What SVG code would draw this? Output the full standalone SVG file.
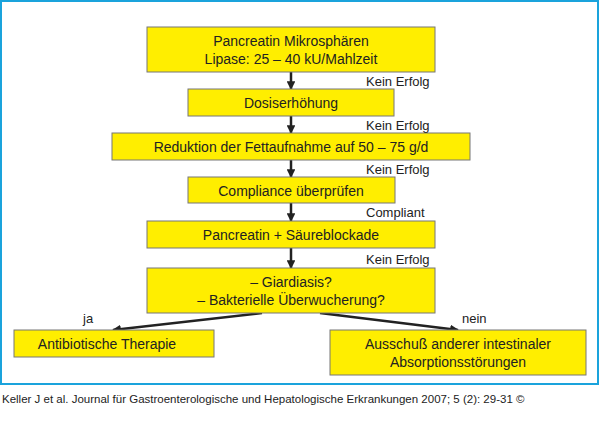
<svg xmlns="http://www.w3.org/2000/svg" width="600" height="447" viewBox="0 0 600 447">
<style>
.b{fill:#ffee00;stroke:#777;stroke-width:1}
.t{font-family:"Liberation Sans",Arial,sans-serif;font-size:14px;fill:#222;text-anchor:middle}
.l{font-family:"Liberation Sans",Arial,sans-serif;font-size:13px;fill:#222}
.c{stroke:#222;stroke-width:2.5;fill:none;marker-end:url(#a)}
</style>
<defs><marker id="a" viewBox="0 0 10 10" refX="9" refY="5" markerWidth="3.5" markerHeight="3.5" orient="auto"><path d="M0,0L10,5L0,10z" fill="#222"/></marker></defs>
<rect width="600" height="447" fill="#fff"/>
<rect x="1" y="1" width="597" height="383" fill="#fff" stroke="#1aa3dc" stroke-width="2"/>
<g id="connectors">
<path class="c" d="M291,72V89"/><path class="c" d="M291,116V133"/><path class="c" d="M291,160V177"/><path class="c" d="M291,203V221"/><path class="c" d="M291,248V268"/>
<path class="c" d="M262,313L113,330"/><path class="c" d="M320,313L458,330"/>
</g>
<g id="n1"><rect class="b" x="147" y="27" width="288" height="45"/><text class="t" x="291" y="46">Pancreatin Mikrosphären</text><text class="t" x="291" y="64">Lipase: 25 – 40 kU/Mahlzeit</text></g>
<g id="n2"><rect class="b" x="188" y="89" width="206" height="27"/><text class="t" x="291" y="108">Dosiserhöhung</text></g>
<g id="n3"><rect class="b" x="112" y="133" width="358" height="27"/><text class="t" x="291" y="152">Reduktion der Fettaufnahme auf 50 – 75 g/d</text></g>
<g id="n4"><rect class="b" x="188" y="177" width="207" height="26"/><text class="t" x="291" y="196">Compliance überprüfen</text></g>
<g id="n5"><rect class="b" x="147" y="221" width="288" height="27"/><text class="t" x="291" y="240">Pancreatin + Säureblockade</text></g>
<g id="n6"><rect class="b" x="147" y="268" width="288" height="45"/><text class="t" x="291" y="287">– Giardiasis?</text><text class="t" x="291" y="305">– Bakterielle Überwucherung?</text></g>
<g id="n7"><rect class="b" x="14" y="330" width="200" height="27"/><text class="t" x="107" y="349">Antibiotische Therapie</text></g>
<g id="n8"><rect class="b" x="330" y="330" width="256" height="45"/><text class="t" x="458" y="349">Ausschuß anderer intestinaler</text><text class="t" x="458" y="367">Absorptionsstörungen</text></g>
<g id="labels">
<text class="l" x="366" y="86">Kein Erfolg</text><text class="l" x="366" y="130">Kein Erfolg</text><text class="l" x="366" y="174">Kein Erfolg</text><text class="l" x="366" y="217">Compliant</text><text class="l" x="366" y="264">Kein Erfolg</text>
<text class="l" x="83" y="323">ja</text><text class="l" x="462" y="323">nein</text>
</g>
<text x="2" y="403" style="font-family:'Liberation Sans',Arial,sans-serif;font-size:11.5px;fill:#222">Keller J et al. Journal für Gastroenterologische und Hepatologische Erkrankungen 2007; 5 (2): 29-31 ©</text>
</svg>
